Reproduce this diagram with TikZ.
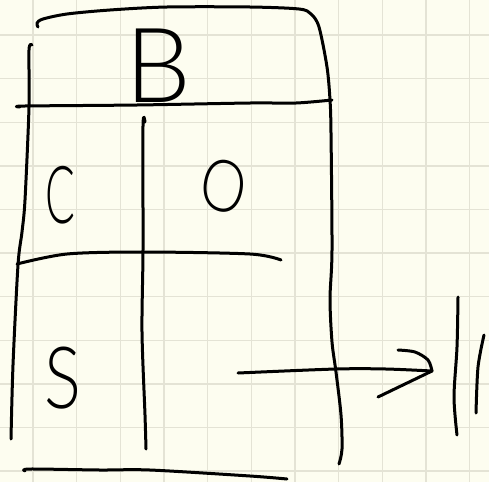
\documentclass[tikz,border=0pt]{standalone}
\usepackage{fontspec}
\setmainfont{Lato}[UprightFont={* Light}]
\definecolor{paper}{RGB}{253,253,240}
\definecolor{gridc}{RGB}{228,227,213}
\tikzset{
  ink/.style={line width=3pt, line cap=round, line join=round, black},
  gridline/.style={line width=1.4pt, gridc},
  letter/.style={inner sep=0pt, outer sep=0pt, anchor=center, black},
}
\begin{document}
\begin{tikzpicture}[x=1pt,y=-1pt]
\fill[paper] (0,0) rectangle (489,482);
\useasboundingbox (0,0) rectangle (489,482);
% grid
\foreach \i in {0,...,10} {
  \draw[gridline] ({33+43.65*\i},0) -- ({33+43.65*\i},482);
  \draw[gridline] (0,{35+43.6*\i}) -- (489,{35+43.6*\i});
}
% top arc and right side
\draw[ink] plot[smooth, tension=0.5] coordinates {(38,27) (37,23) (43,19) (67,14) (110,10) (167,7) (250,7) (299,9) (311,14) (319,27) (327,67) (330,100) (331,133) (332,250) (330,299) (332,342) (336,372) (341,415) (342,449) (339,464)};
% left side
\draw[ink] plot[smooth, tension=0.5] coordinates {(32,45) (29,50) (29,107) (25,200) (22,232) (18,265) (13,365) (11,439)};
% header line
\draw[ink] plot[smooth, tension=0.5] coordinates {(20,107) (25,106) (137,105) (250,103) (296,103) (332,100)};
% middle vertical divider
\draw[ink] plot[smooth, tension=0.5] coordinates {(145,122) (143,126) (143,250) (142,332) (145,415) (146,449)};
% middle horizontal
\draw[ink] plot[smooth, tension=0.5] coordinates {(17,264) (67,254) (143,252) (250,254) (281,260)};
% bottom
\draw[ink] plot[smooth, tension=0.5] coordinates {(25,471) (30,469) (100,470) (150,470) (250,476) (287,479)};
% arrow
\coordinate (tip) at (432,371);
\coordinate (tail) at (238,373);
\draw[ink] plot[smooth, tension=0.5] coordinates {(tail) (336,369) (386,369) (tip)};
\draw[ink] plot[smooth, tension=0.5] coordinates {(398,350) (415,352) (428,360) (tip)};
\draw[ink] (378,397) -- (tip);
% two bars
\draw[ink] plot[smooth, tension=0.5] coordinates {(458,297) (457,347) (454,397) (457,435)};
\draw[ink] plot[smooth, tension=0.5] coordinates {(484,335) (478,367) (476,413)};
% letters
\node[letter, font=\fontsize{104}{104}\selectfont] (B) at (158,66) {B};
\node[letter, font=\fontsize{80}{80}\selectfont, xscale=0.55] (C) at (60,195) {C};
\node[letter, font=\fontsize{72}{72}\selectfont, xscale=0.8, rotate=-15] (O) at (224,186) {O};
\node[letter, font=\fontsize{86}{86}\selectfont, xscale=0.8] (S) at (63,378) {S};
\end{tikzpicture}
\end{document}
